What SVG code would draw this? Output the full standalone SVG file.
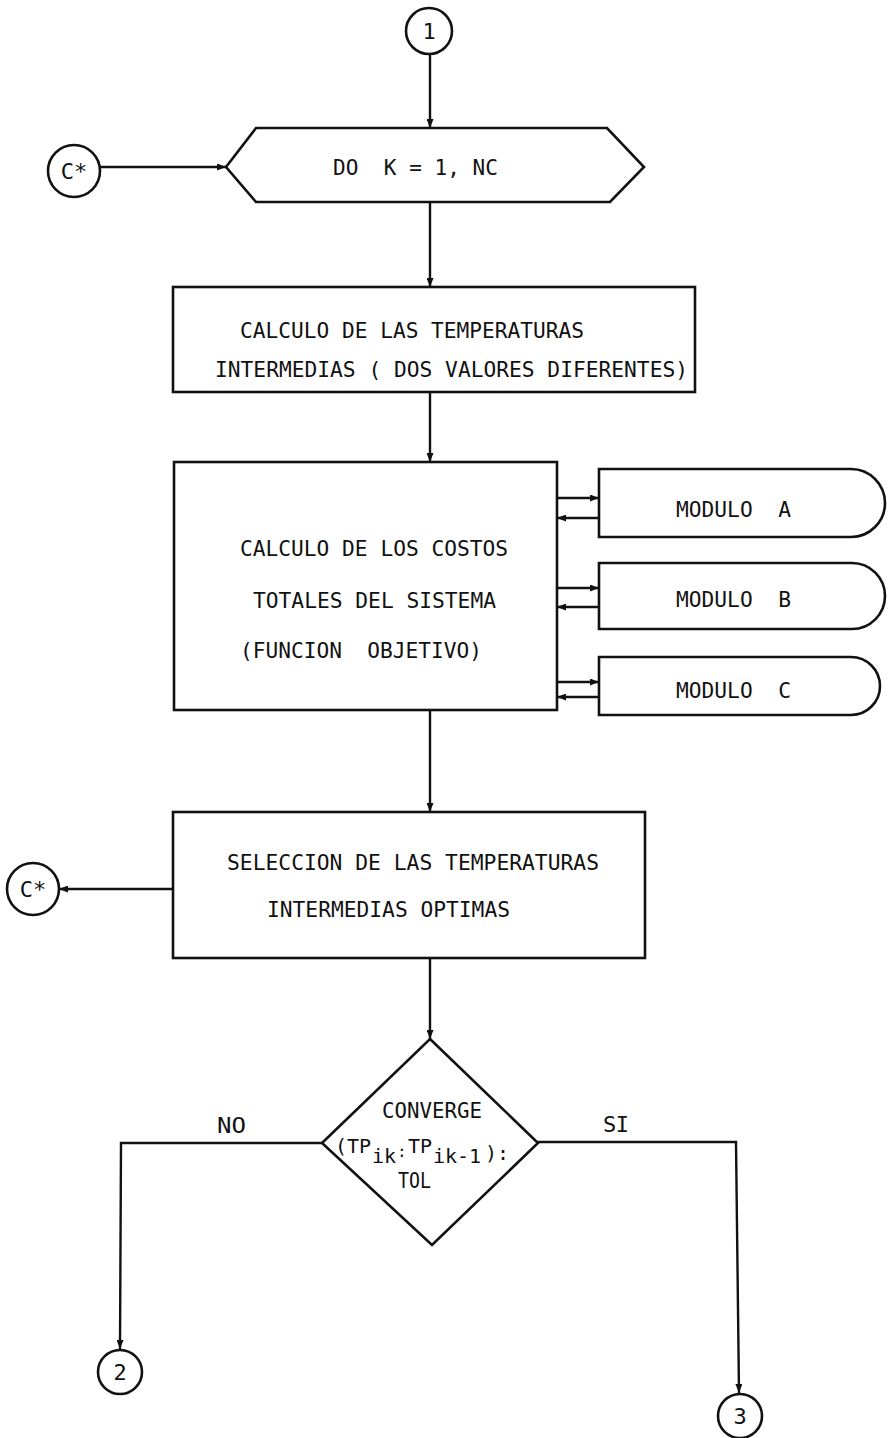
<svg xmlns="http://www.w3.org/2000/svg" width="892" height="1438" viewBox="0 0 892 1438">
<style>
.w{fill:#fff;stroke:#111;stroke-width:2.6}
.c{fill:none;stroke:#111;stroke-width:2.4}
.t{font-family:"DejaVu Sans Mono","Liberation Mono",monospace;font-size:22px;fill:#111;white-space:pre}
.m{font-family:"DejaVu Sans Mono","Liberation Mono",monospace;font-size:20px;fill:#111;white-space:pre}
.n{font-family:"DejaVu Sans Mono","Liberation Mono",monospace;font-size:22px;fill:#111;text-anchor:middle}
</style>
<defs>
<marker id="ah" viewBox="0 0 10 10" refX="10" refY="5" markerWidth="9" markerHeight="7" preserveAspectRatio="none" orient="auto" markerUnits="userSpaceOnUse"><path d="M0,0 L10,5 L0,10 z" fill="#111"/></marker>
</defs>
<rect width="892" height="1438" fill="#fff"/>

<g id="connectors">
<line class="c" x1="430" y1="55" x2="430" y2="128" marker-end="url(#ah)"/>
<line class="c" x1="100" y1="167" x2="226" y2="167" marker-end="url(#ah)"/>
<line class="c" x1="430" y1="202" x2="430" y2="287" marker-end="url(#ah)"/>
<line class="c" x1="430" y1="392" x2="430" y2="462" marker-end="url(#ah)"/>
<line class="c" x1="557" y1="498" x2="599" y2="498" marker-end="url(#ah)"/>
<line class="c" x1="599" y1="518" x2="557" y2="518" marker-end="url(#ah)"/>
<line class="c" x1="557" y1="588" x2="599" y2="588" marker-end="url(#ah)"/>
<line class="c" x1="599" y1="607" x2="557" y2="607" marker-end="url(#ah)"/>
<line class="c" x1="557" y1="682" x2="599" y2="682" marker-end="url(#ah)"/>
<line class="c" x1="599" y1="697" x2="557" y2="697" marker-end="url(#ah)"/>
<line class="c" x1="430" y1="710" x2="430" y2="812" marker-end="url(#ah)"/>
<line class="c" x1="173" y1="889" x2="59" y2="889" marker-end="url(#ah)"/>
<line class="c" x1="430" y1="958" x2="430" y2="1039" marker-end="url(#ah)"/>
<polyline class="c" points="322,1143 121,1143 120,1349" marker-end="url(#ah)"/>
<polyline class="c" points="538,1142 736,1142 739,1393" marker-end="url(#ah)"/>
<text class="t" x="217" y="1133" textLength="29" lengthAdjust="spacingAndGlyphs">NO</text>
<text class="t" x="603" y="1132" textLength="26" lengthAdjust="spacing">SI</text>
</g>

<g id="c1">
<circle class="w" cx="429" cy="31" r="23"/>
<text class="n" x="429" y="39">1</text>
</g>

<g id="cstar-top">
<circle class="w" cx="74" cy="171" r="26"/>
<text class="n" x="74" y="179">C*</text>
</g>

<g id="do-loop">
<polygon class="w" points="226,167 256,128 607,128 644,167 610,202 256,202"/>
<text class="t" x="333" y="175" textLength="165" lengthAdjust="spacingAndGlyphs">DO  K = 1, NC</text>
</g>

<g id="box1">
<rect class="w" x="173" y="287" width="522" height="105"/>
<text class="t" x="240" y="338" textLength="344" lengthAdjust="spacingAndGlyphs">CALCULO DE LAS TEMPERATURAS</text>
<text class="t" x="215" y="377" textLength="473" lengthAdjust="spacingAndGlyphs">INTERMEDIAS ( DOS VALORES DIFERENTES)</text>
</g>

<g id="box2">
<rect class="w" x="174" y="462" width="383" height="248"/>
<text class="t" x="240" y="556" textLength="268" lengthAdjust="spacingAndGlyphs">CALCULO DE LOS COSTOS</text>
<text class="t" x="253" y="608" textLength="243" lengthAdjust="spacingAndGlyphs">TOTALES DEL SISTEMA</text>
<text class="t" x="240" y="658" textLength="242" lengthAdjust="spacingAndGlyphs">(FUNCION  OBJETIVO)</text>
</g>

<g id="moduloA">
<path class="w" d="M599,469 H851 A34,34 0 0 1 851,537 H599 Z"/>
<text class="t" x="676" y="517" textLength="115" lengthAdjust="spacingAndGlyphs">MODULO  A</text>
</g>
<g id="moduloB">
<path class="w" d="M599,563 H852 A33,33 0 0 1 852,629 H599 Z"/>
<text class="t" x="676" y="607" textLength="115" lengthAdjust="spacingAndGlyphs">MODULO  B</text>
</g>
<g id="moduloC">
<path class="w" d="M599,657 H851 A29,29 0 0 1 851,715 H599 Z"/>
<text class="t" x="676" y="698" textLength="115" lengthAdjust="spacingAndGlyphs">MODULO  C</text>
</g>

<g id="box3">
<rect class="w" x="173" y="812" width="472" height="146"/>
<text class="t" x="227" y="870" textLength="372" lengthAdjust="spacingAndGlyphs">SELECCION DE LAS TEMPERATURAS</text>
<text class="t" x="267" y="917" textLength="243" lengthAdjust="spacingAndGlyphs">INTERMEDIAS OPTIMAS</text>
</g>

<g id="cstar-bottom">
<circle class="w" cx="33" cy="889" r="26"/>
<text class="n" x="33" y="897">C*</text>
</g>

<g id="decision">
<polygon class="w" points="430,1039 538,1143 432,1245 322,1143"/>
<text class="t" x="382" y="1118" textLength="100" lengthAdjust="spacingAndGlyphs">CONVERGE</text>
<text class="m"><tspan x="335" y="1153">(TP</tspan><tspan x="372" y="1163">ik</tspan><tspan x="397" y="1157" font-size="16">:</tspan><tspan x="408" y="1153">TP</tspan><tspan x="433" y="1163">ik-1</tspan><tspan x="485" y="1160">):</tspan></text>
<text class="t" x="398" y="1188" textLength="33" lengthAdjust="spacingAndGlyphs">TOL</text>
</g>

<g id="c2">
<circle class="w" cx="120" cy="1372" r="22"/>
<text class="n" x="120" y="1380">2</text>
</g>
<g id="c3">
<circle class="w" cx="740" cy="1416" r="22"/>
<text class="n" x="740" y="1424">3</text>
</g>
</svg>
